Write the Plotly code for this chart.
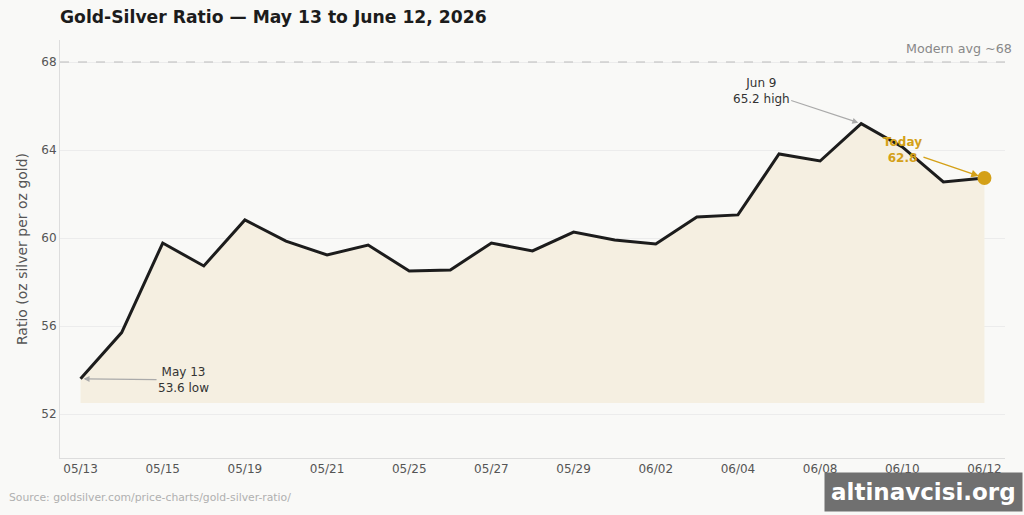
import plotly.graph_objects as go

dates = ["05/13", "05/14", "05/15", "05/18", "05/19", "05/20", "05/21", "05/22",
         "05/25", "05/26", "05/27", "05/28", "05/29", "06/01", "06/02", "06/03",
         "06/04", "06/05", "06/08", "06/09", "06/10", "06/11", "06/12"]
ratio = [53.6, 55.7, 59.77, 58.73, 60.82, 59.86, 59.23, 59.68, 58.5, 58.55, 59.77,
         59.41, 60.27, 59.91, 59.73, 60.95, 61.05, 63.82, 63.5, 65.2, 64.14, 62.55, 62.73]
fill_base = 52.5
modern_avg = 68
y_ticks = [52, 56, 60, 64, 68]

x = list(range(len(dates)))
tick_idx = x[::2]
tick_text = [dates[i] for i in tick_idx]

BG = "#f9f9f7"
GOLD = "#d4a017"
FONT = "DejaVu Sans"

fig = go.Figure()
fig.add_trace(go.Scatter(x=x, y=[fill_base] * len(x), mode="lines",
                         line=dict(width=0), hoverinfo="skip", showlegend=False))
fig.add_trace(go.Scatter(x=x, y=ratio, mode="lines", fill="tonexty",
                         fillcolor="#f5efe1", line=dict(color="#1c1c1c", width=3),
                         showlegend=False))
fig.add_trace(go.Scatter(x=[x[-1]], y=[ratio[-1]], mode="markers",
                         marker=dict(color=GOLD, size=14), showlegend=False))

fig.add_shape(type="line", xref="paper", x0=0, x1=1, yref="y", y0=modern_avg, y1=modern_avg,
              line=dict(color="#bbbbbb", width=1.2, dash="dash"))

fig.add_annotation(xref="paper", x=1.009, yref="y", y=modern_avg, yshift=14,
                   text="Modern avg ~68", showarrow=False, xanchor="right",
                   font=dict(size=12.7, color="#888888", family=FONT))

fig.add_annotation(x=19, y=ratio[19], text="Jun 9<br>65.2 high", ax=-100, ay=-33,
                   showarrow=True, arrowhead=2, arrowsize=1, arrowwidth=1.2,
                   arrowcolor="#aaaaaa", standoff=3,
                   font=dict(size=12, color="#333333", family=FONT))
fig.add_annotation(x=0, y=ratio[0], text="May 13<br>53.6 low", ax=103, ay=1,
                   showarrow=True, arrowhead=2, arrowsize=1, arrowwidth=1.2,
                   arrowcolor="#aaaaaa", standoff=3,
                   font=dict(size=12, color="#333333", family=FONT))
fig.add_annotation(x=22, y=ratio[-1], text="<b>Today<br>62.8</b>", ax=-82, ay=-28,
                   showarrow=True, arrowhead=2, arrowsize=1, arrowwidth=1.5,
                   arrowcolor=GOLD, standoff=6,
                   font=dict(size=12, color=GOLD, family=FONT))

fig.add_annotation(xref="paper", yref="paper", x=-0.056, y=-0.095, xanchor="left", yanchor="middle",
                   text="Source: goldsilver.com/price-charts/gold-silver-ratio/", showarrow=False,
                   font=dict(size=10.8, color="#b0b0b0", family=FONT))

fig.add_annotation(xref="paper", yref="paper", x=1.019, y=-0.081, xanchor="right", yanchor="middle",
                   text="<b>altinavcisi.org</b>", showarrow=False, bgcolor="rgba(100,100,100,0.92)",
                   borderpad=6, font=dict(size=23, color="white", family=FONT))

fig.update_layout(
    width=1024, height=515,
    paper_bgcolor=BG, plot_bgcolor=BG,
    margin=dict(l=60, r=19, t=40, b=57),
    title=dict(text="<b>Gold-Silver Ratio — May 13 to June 12, 2026</b>",
               x=60 / 1024, xanchor="left", y=1 - 17 / 515, yanchor="middle",
               font=dict(size=17.2, color="#1c1c1c", family=FONT)),
    font=dict(family=FONT, color="#555555", size=12),
    xaxis=dict(range=[-0.5, 22.5], tickvals=tick_idx, ticktext=tick_text,
               showgrid=False, zeroline=False, showline=True, linecolor="#dddddd",
               linewidth=1, ticks="", tickfont=dict(size=12, color="#555555")),
    yaxis=dict(range=[50, 69], tickvals=y_ticks, showgrid=True, gridcolor="#ececec",
               zeroline=False, showline=True, linecolor="#dddddd", linewidth=1,
               ticks="", tickfont=dict(size=12, color="#555555"),
               title=dict(text="Ratio (oz silver per oz gold)", standoff=10,
                          font=dict(size=14, color="#555555"))),
)

fig.write_html("out.html")
